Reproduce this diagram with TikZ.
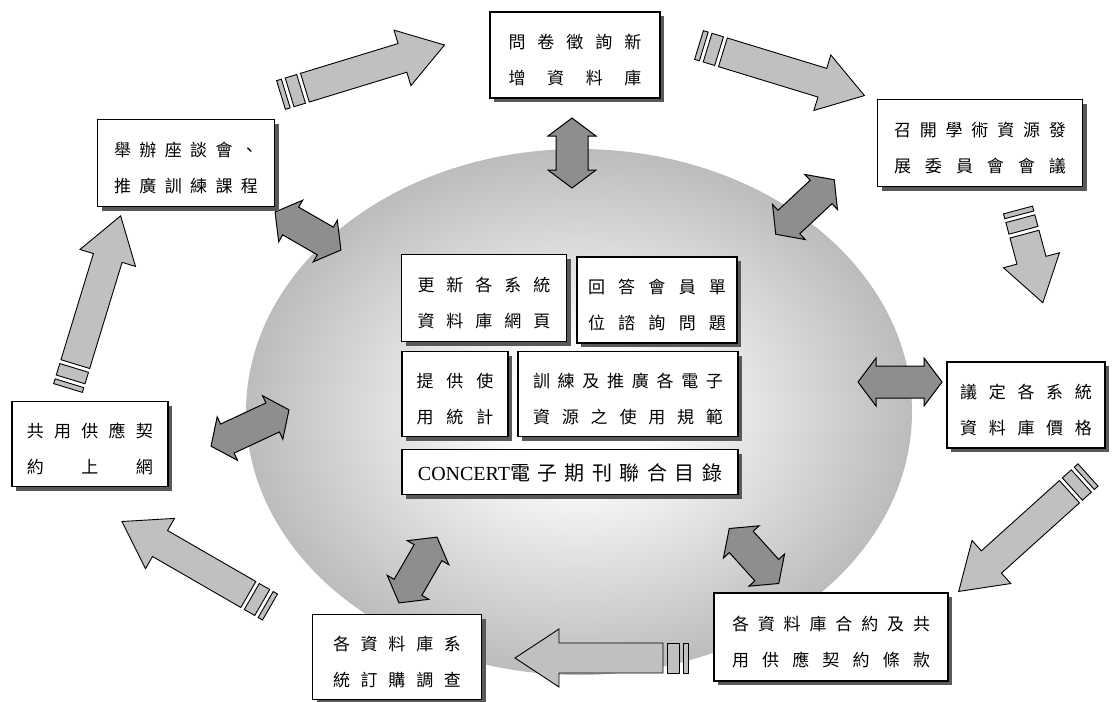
\documentclass[tikz,border=0pt]{standalone}
\usepackage{fontspec}
\setmainfont{Liberation Serif}
\newfontfamily\cjk{Noto Sans CJK TC}
\usetikzlibrary{shadows}
\definecolor{Shell}{HTML}{C0C0C0}
\definecolor{Link}{HTML}{8E8E8E}
\definecolor{Rim}{HTML}{BCBCBC}
\pgfdeclareradialshading{hubshade}{\pgfpoint{0bp}{0bp}}{color(0bp)=(white);color(5bp)=(white);color(25bp)=(Rim);color(50bp)=(Rim)}
\tikzset{
 card/.style={draw=black,line width=1.3pt,fill=white,align=center,inner sep=0pt,text height=60pt,
  font=\cjk\fontsize{17}{36}\selectfont,
  drop shadow={shadow xshift=4pt,shadow yshift=-4pt,fill=black!65,opacity=1}},
 flow/.style={draw=black,line width=.9pt,fill=Shell},
 link/.style={draw=black,line width=1pt,fill=Link},
}
\makeatletter
\newcommand{\spread}[2]{\makebox[#1][s]{\spread@go#2\@nil}}
\def\spread@go#1#2{#1\ifx#2\@nil\else\hfill\expandafter\spread@go\expandafter#2\fi}
\makeatother
\newcommand{\flowarrow}[4]{\begin{scope}[shift={(#1,#2)},rotate=#3]
 \draw[flow](0,-15)rectangle(5,15);
 \draw[flow](9,-15)rectangle(21,15);
 \draw[flow](25,-15)--({#4-44},-15)--({#4-44},-29)--(#4,0)--({#4-44},29)--({#4-44},15)--(25,15)--cycle;
 \end{scope}}
\newcommand{\linkarrow}[4]{\begin{scope}[shift={(#1,#2)},rotate=#3]
 \draw[link]({-#4/2},0)--({-#4/2+18},24)--({-#4/2+18},16)--({#4/2-18},16)--({#4/2-18},24)--({#4/2},0)
  --({#4/2-18},-24)--({#4/2-18},-16)--({-#4/2+18},-16)--({-#4/2+18},-24)--cycle;
 \end{scope}}

\begin{document}
\begin{tikzpicture}[x=1pt,y=-1pt]
 \useasboundingbox(0,0)rectangle(1112,702);
 \shade[shading=hubshade](579,412)ellipse[x radius=333,y radius=263];
 % links between the hub and the steps
 \linkarrow{572}{153}{90}{70}
 \linkarrow{805}{207}{43}{80}
 \linkarrow{308}{231}{-30}{76}
 \linkarrow{900}{382}{0}{84}
 \linkarrow{250}{428}{25}{86}
 \linkarrow{418}{570}{60}{76}
 \linkarrow{754}{556}{-48}{74}
 % hub
 \node[card,minimum width=165,minimum height=87](web)at(484,298){\spread{133pt}{更新各系統}\\\spread{133pt}{資料庫網頁}};
 \node[card,minimum width=160,minimum height=86](reply)at(657,300){\spread{138pt}{回答會員單}\\\spread{138pt}{位諮詢問題}};
 \node[card,minimum width=106,minimum height=85](stats)at(455,394){\spread{77pt}{提供使}\\\spread{77pt}{用統計}};
 \node[card,minimum width=220,minimum height=85](train)at(628,394){\spread{190pt}{訓練及推廣各電子}\\\spread{190pt}{資源之使用規範}};
 \node[card,minimum width=336,minimum height=45,text height=18pt,font=\cjk\fontsize{20}{24}\selectfont](union)at(570,472){{\rmfamily CONCERT}\spread{212pt}{電子期刊聯合目錄}};
 % cycle of steps
 \node[card,minimum width=170,minimum height=86](ask)at(575,55){\spread{133pt}{問卷徵詢新}\\\spread{133pt}{增資料庫}};
 \node[card,minimum width=205,minimum height=87](meet)at(980,143){\spread{172pt}{召開學術資源發}\\\spread{172pt}{展委員會會議}};
 \node[card,minimum width=158,minimum height=86](price)at(1026,405){\spread{132pt}{議定各系統}\\\spread{132pt}{資料庫價格}};
 \node[card,minimum width=234,minimum height=88](terms)at(831,637){\spread{198pt}{各資料庫合約及共}\\\spread{198pt}{用供應契約條款}};
 \node[card,minimum width=169,minimum height=85](survey)at(397,657){\spread{128pt}{各資料庫系}\\\spread{128pt}{統訂購調查}};
 \node[card,minimum width=156,minimum height=85](online)at(90,444){\spread{126pt}{共用供應契}\\\spread{126pt}{約上網}};
 \node[card,minimum width=177,minimum height=87](talk)at(186,163){\spread{144pt}{舉辦座談會、}\\\spread{144pt}{推廣訓練課程}};
 \flowarrow{281}{95}{17}{171}
 \flowarrow{699}{45}{-17}{173}
 \flowarrow{1018}{210}{-75}{96}
 \flowarrow{1088}{475}{-138}{174}
 \flowarrow{688}{658}{180}{173}
 \flowarrow{270}{607}{150}{171}
 \flowarrow{68}{388}{73}{180}
\end{tikzpicture}
\end{document}
